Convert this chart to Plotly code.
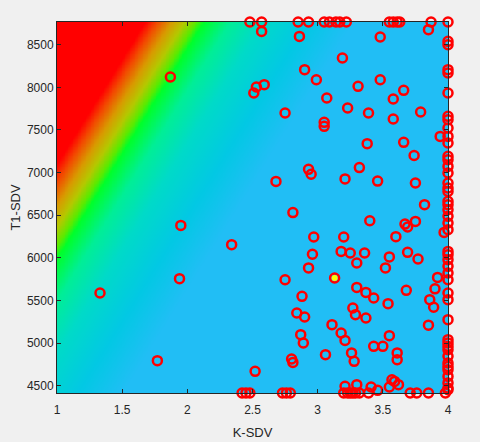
import numpy as np
import plotly.graph_objects as go

#region <DATA>
X_RANGE = [1, 4]
Y_RANGE = [4414, 8766]

# sampled points (K-SDV, T1-SDV)
top_x = [2.48, 2.57, 2.85, 2.93, 3.05, 3.09, 3.14, 3.17, 3.22, 3.55, 3.58, 3.61, 3.63, 3.87, 4.0]
bottom_x = [2.42, 2.45, 2.48, 2.73, 2.76, 2.79, 3.20, 3.23, 3.25, 3.27, 3.29, 3.32, 3.39,
            3.71, 3.76, 3.85, 3.98]
edge_y = [8539, 8500, 8207, 8168, 7933, 7659, 7620, 7523, 7424, 7347, 7190, 7151, 7072, 6995,
          6878, 6819, 6779, 6662, 6623, 6564, 6486, 6408, 6330, 6075, 6037, 5978, 5900, 5822,
          5743, 5587, 5509, 5274, 5040, 5001, 4961, 4922, 4844, 4766, 4726, 4688, 4609, 4532,
          4473, 4453]

inner_x = [1.87, 1.95, 2.34, 1.94, 1.33, 1.77,
           2.57, 2.86, 3.48, 3.85, 3.19, 2.90, 2.99, 2.53, 2.51, 2.59, 3.31, 3.48, 3.66, 3.58,
           3.07, 2.75, 3.23, 3.39, 3.58, 3.79, 3.05, 3.05, 3.94, 3.38, 3.66, 3.74, 2.93, 2.95,
           3.32, 3.21, 3.46, 2.68, 3.75, 3.82, 2.81,
           3.40, 3.67, 3.69, 3.75, 3.97, 2.97, 3.20, 3.60, 3.18, 3.25, 3.36, 2.96, 3.55, 3.69,
           3.77, 3.30, 2.93, 3.52, 2.75, 3.13, 3.92, 3.30, 3.37, 3.43, 3.68, 3.90, 3.86, 3.89,
           2.88, 3.54, 3.27, 3.29, 3.37, 2.84, 2.90, 3.11, 3.85, 3.18, 3.21, 2.87, 2.89, 3.55,
           3.43, 3.50, 3.61, 3.61, 3.06, 3.26, 3.28, 2.80, 2.81, 2.52,
           3.21, 3.30, 3.41, 3.46, 3.57, 3.59, 3.62, 3.55]
inner_y = [8121, 6380, 6154, 5755, 5587, 4793,
           8656, 8597, 8590, 8676, 8344, 8207, 8089, 8004, 7933, 8031, 8011, 8089, 7964, 7863,
           7875, 7699, 7757, 7699, 7628, 7710, 7589, 7542, 7424, 7339, 7354, 7200, 7038, 6980,
           7058, 6925, 6900, 6896, 6878, 6623, 6530,
           6435, 6395, 6361, 6427, 6298, 6244, 6244, 6248, 6075, 6056, 6056, 6042, 6010, 6064,
           5986, 5939, 5881, 5881, 5743, 5763, 5770, 5653, 5594, 5529, 5618, 5636, 5509, 5420,
           5548, 5462, 5411, 5333, 5294, 5353, 5306, 5216, 5210, 5118, 5031, 5098, 5001, 5087,
           4961, 4961, 4884, 4805, 4864, 4884, 4785, 4813, 4773, 4668,
           4492, 4512, 4485, 4445, 4570, 4550, 4512, 4485]

best_x = [3.13]
best_y = [5763]

# background surface: plane through the green ridge, clipped
RIDGE_Y0 = 6000
RIDGE_SLOPE = 2464
S_MIN, S_MAX = -0.45, 1.2
BG_COLORS = [
    (-0.45, '#FF0000'),
    (-0.36, '#F24A00'),
    (-0.25, '#D89A00'),
    (-0.15, '#B4C800'),
    (-0.06, '#5CEA00'),
    (0.00, '#00FF2A'),
    (0.20, '#00EE96'),
    (0.45, '#00DAC8'),
    (0.80, '#02C8E4'),
    (1.15, '#21BEF5'),
    (1.20, '#21BEF5'),
]
#endregion

k_sdv = top_x + bottom_x + [4.0] * len(edge_y) + inner_x
t1_sdv = [Y_RANGE[1]] * len(top_x) + [Y_RANGE[0]] * len(bottom_x) + edge_y + inner_y

gx = np.linspace(X_RANGE[0], X_RANGE[1], 241)
gy = np.linspace(Y_RANGE[0], Y_RANGE[1], 241)
GX, GY = np.meshgrid(gx, gy)
s = np.clip((GX - 1) - (GY - RIDGE_Y0) / RIDGE_SLOPE, S_MIN, S_MAX)
colorscale = [[(v - S_MIN) / (S_MAX - S_MIN), c] for v, c in BG_COLORS]

fig = go.Figure()
fig.add_trace(go.Heatmap(x=gx, y=gy, z=s, colorscale=colorscale, zmin=S_MIN, zmax=S_MAX,
                         zsmooth='best', showscale=False, hoverinfo='skip'))
fig.add_trace(go.Scatter(x=k_sdv, y=t1_sdv, mode='markers', cliponaxis=False,
                         marker=dict(symbol='circle-open', size=9, color='#FF0000',
                                     line=dict(width=2.5, color='#FF0000'))))
fig.add_trace(go.Scatter(x=best_x, y=best_y, mode='markers', cliponaxis=False,
                         marker=dict(symbol='circle', size=6, color='#FFFF00',
                                     line=dict(width=0))))

axis_style = dict(showline=True, linecolor='#262626', linewidth=1, mirror='ticks',
                  ticks='inside', ticklen=4, tickcolor='#262626', showgrid=False,
                  zeroline=False, automargin=False, tickfont=dict(size=12, color='#262626'))

fig.update_layout(
    width=480, height=442,
    margin=dict(l=57, r=32, t=22, b=49),
    paper_bgcolor='#F0F0F0', plot_bgcolor='#F0F0F0',
    font=dict(family='Liberation Sans, Arial, sans-serif', color='#262626'),
    showlegend=False,
)
fig.update_xaxes(range=X_RANGE, tickvals=[1, 1.5, 2, 2.5, 3, 3.5, 4],
                 ticktext=['1', '1.5', '2', '2.5', '3', '3.5', '4'], ticklabelstandoff=6,
                 title=dict(text='K-SDV', font=dict(size=13), standoff=11), **axis_style)
fig.update_yaxes(range=Y_RANGE, tickvals=[4500, 5000, 5500, 6000, 6500, 7000, 7500, 8000, 8500],
                 title=dict(text='T1-SDV', font=dict(size=13), standoff=3), **axis_style)

# page has a default body margin; drop it so the figure sits at the window origin
fig.write_html("out.html", config={'displayModeBar': False},
               post_script="document.body.style.margin='0';"
                           "document.body.style.background='#F0F0F0';")
